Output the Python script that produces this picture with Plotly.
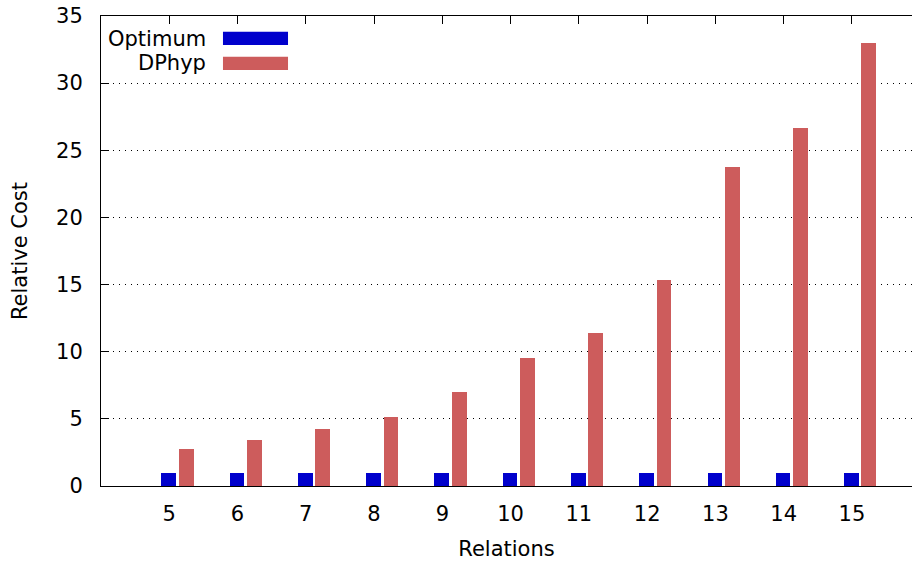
import plotly.graph_objects as go

relations = [5, 6, 7, 8, 9, 10, 11, 12, 13, 14, 15]
optimum = [1, 1, 1, 1, 1, 1, 1, 1, 1, 1, 1]
dphyp = [2.76, 3.43, 4.27, 5.14, 7.0, 9.53, 11.39, 15.34, 23.75, 26.66, 33.0]
y_ticks = [0, 5, 10, 15, 20, 25, 30, 35]
series_names = ["Optimum", "DPhyp"]
colors = ["#0000CC", "#CD5C5C"]

FONT = "DejaVu Sans"
FS = 21

fig = go.Figure()
fig.add_trace(go.Bar(x=relations, y=optimum, name=series_names[0],
                     marker=dict(color=colors[0], line=dict(width=0)),
                     width=0.215, offset=-0.115, showlegend=False))
fig.add_trace(go.Bar(x=relations, y=dphyp, name=series_names[1],
                     marker=dict(color=colors[1], line=dict(width=0)),
                     width=0.215, offset=0.14, showlegend=False))

# gnuplot-style legend: text right-aligned, swatch on the right
leg_y = [0.952, 0.9]
sw_y = [(0.9383, 0.9666), (0.8851, 0.9134)]
for name, c, ty, (y0, y1) in zip(series_names, colors, leg_y, sw_y):
    fig.add_annotation(x=0.1319, y=ty, xref="paper", yref="paper", text=name,
                       showarrow=False, xanchor="right", yanchor="middle",
                       font=dict(family=FONT, size=FS, color="black"))
    fig.add_shape(type="rect", xref="paper", yref="paper", x0=0.1504, x1=0.2306,
                  y0=y0, y1=y1, fillcolor=c, line=dict(width=0))

fig.update_layout(
    width=912, height=561,
    margin=dict(l=101, r=0, t=16, b=75),
    paper_bgcolor="white", plot_bgcolor="white",
    font=dict(family=FONT, size=FS, color="black"),
    barmode="overlay",
    bargap=0,
)
fig.update_xaxes(
    range=[4, 15.88], tickmode="array", tickvals=relations,
    ticktext=[str(r) for r in relations],
    ticks="inside", ticklen=8, tickcolor="black", tickwidth=1,
    showline=True, linecolor="black", linewidth=1, mirror="ticks",
    showgrid=False, zeroline=False, layer="below traces",
    ticklabelstandoff=9,
    title=dict(text="Relations", standoff=16, font=dict(size=FS)),
)
fig.update_yaxes(
    range=[0, 35], tickmode="array", tickvals=y_ticks,
    ticks="inside", ticklen=8, tickcolor="black", tickwidth=1,
    showline=True, linecolor="black", linewidth=1, mirror=False,
    showgrid=True, gridcolor="black", gridwidth=1, griddash="1px,5px",
    zeroline=False, layer="below traces",
    ticklabelstandoff=13,
    title=dict(text="Relative Cost", standoff=22, font=dict(size=FS)),
)

fig.write_html("out.html")
